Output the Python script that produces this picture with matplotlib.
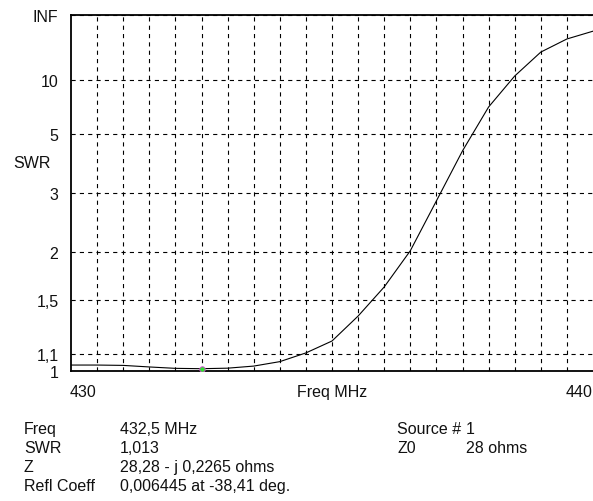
import numpy as np
import matplotlib
matplotlib.use("Agg")
import matplotlib.pyplot as plt

plt.rcParams['font.family'] = ['Liberation Sans', 'DejaVu Sans']
plt.rcParams['lines.scale_dashes'] = False

# data
freq_mhz = [430.0, 430.5, 431.0, 431.5, 432.0, 432.5, 433.0, 433.5, 434.0, 434.5,
            435.0, 435.5, 436.0, 436.5, 437.0, 437.5, 438.0, 438.5, 439.0, 439.5, 440.0]
swr = [1.034, 1.034, 1.032, 1.023, 1.015, 1.013, 1.016, 1.028, 1.054, 1.107,
       1.184, 1.365, 1.618, 2.02, 2.83, 4.24, 6.74, 10.67, 18.2, 28.7, 43.0]
swr_ticks = [1.0, 1.1, 1.5, 2.0, 3.0, 5.0, 10.0, np.inf]
swr_tick_labels = ['1', '1,1', '1,5', '2', '3', '5', '10', 'INF']
marker_freq = 432.5
marker_swr = 1.013

info_left = [('Freq', '432,5 MHz'), ('SWR', '1,013'), ('Z', '28,28 - j 0,2265 ohms'),
             ('Refl Coeff', '0,006445 at -38,41 deg.')]
info_right = [('Source #', '1'), ('Z0', '28 ohms')]


def rho(s):
    s = np.asarray(s, dtype=float)
    with np.errstate(invalid='ignore'):
        r = np.where(np.isinf(s), 1.0, (s - 1) / (s + 1))
    return r


FS = 11.5
W, H = 593, 502
fig = plt.figure(figsize=(W / 100, H / 100), dpi=100)
ax = fig.add_axes([71 / W, 1 - 372 / H, (593 - 71) / W, (372 - 16) / H])

ax.plot(freq_mhz, rho(swr), color='black', lw=0.8, zorder=3)
ax.plot([marker_freq], rho([marker_swr]), 'o', ms=4, mfc='#33dd33', mec='#dd44dd', mew=0.6, zorder=4)

ax.set_xlim(430, 440)
ax.set_ylim(0, 1)
ax.set_xticks(np.arange(430.5, 440, 0.5))
ax.set_yticks(rho(swr_ticks))
ax.set_yticklabels(swr_tick_labels, fontsize=FS, color='#111111')
ax.set_xticklabels([])
ax.tick_params(axis='both', length=0, pad=9)
ax.grid(True, color='black', lw=0.8, linestyle=(0, (3, 3)))
ax.set_axisbelow(True)

for side in ['left', 'bottom', 'top']:
    ax.spines[side].set_linewidth(1.3)
ax.spines['right'].set_visible(False)


def px(x, y):
    return x / W, 1 - y / H


kw = dict(fontsize=FS, va='center', color='#111111')
fig.text(*px(13, 164), 'SWR', ha='left', **kw)
fig.text(*px(70, 393), '430', ha='left', **kw)
fig.text(*px(332, 393), 'Freq MHz', ha='center', **kw)
fig.text(*px(592, 393), '440', ha='right', **kw)

row_y = [430, 449, 468, 487]
for (k, v), y in zip(info_left, row_y):
    fig.text(*px(24, y), k, ha='left', **kw)
    fig.text(*px(120, y), v, ha='left', **kw)
for (k, v), y in zip(info_right, row_y):
    fig.text(*px(397, y), k, ha='left', **kw)
    fig.text(*px(466, y), v, ha='left', **kw)

fig.savefig('out.png', dpi=100)
